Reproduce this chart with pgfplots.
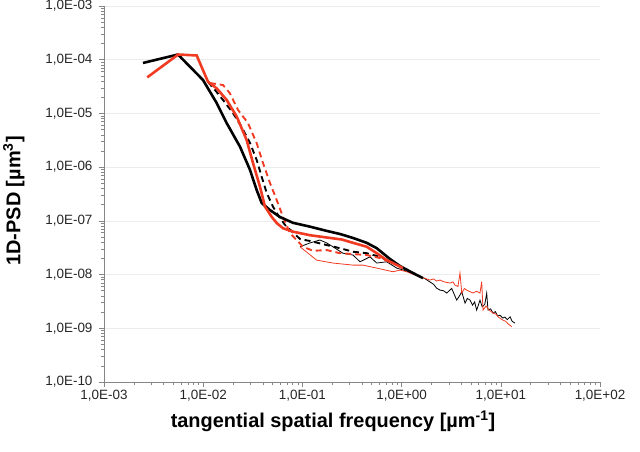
\documentclass[border=0pt]{standalone}
\usepackage{fontspec}
\setmainfont{Liberation Sans}
\usepackage{pgfplots}
\pgfplotsset{compat=1.18}
\definecolor{pr}{HTML}{F03A22}
\definecolor{axgray}{RGB}{134,134,134}
\definecolor{gridc}{RGB}{236,236,236}
\begin{document}
\begin{tikzpicture}
\begin{axis}[
  scale only axis, width=496bp, height=376bp,
  xmode=log, ymode=log,
  xmin=1e-3, xmax=1e2, ymin=1e-10, ymax=1e-3,
  axis x line*=bottom, axis y line*=left,
  axis line style={axgray, line width=0.8pt},
  tick style={axgray, line width=0.6pt},
  tick align=outside,
  major tick length=5bp, minor tick length=3bp,
  xtick={1e-3,1e-2,1e-1,1e0,1e1,1e2},
  xticklabels={{1,0E-03},{1,0E-02},{1,0E-01},{1,0E+00},{1,0E+01},{1,0E+02}},
  ytick={1e-10,1e-9,1e-8,1e-7,1e-6,1e-5,1e-4,1e-3},
  yticklabels={{1,0E-10},{1,0E-09},{1,0E-08},{1,0E-07},{1,0E-06},{1,0E-05},{1,0E-04},{1,0E-03}},
  ticklabel style={font=\fontsize{13.5}{15}\selectfont, text=black!85},
  yticklabel style={xshift=-3bp},
  ymajorgrids, major grid style={gridc, line width=0.6pt},
  xlabel={tangential spatial frequency [µm\textsuperscript{-1}]},
  ylabel={1D-PSD [µm\textsuperscript{3}]},
  label style={font=\bfseries\fontsize{20}{24}\selectfont},
  xlabel style={yshift=-2bp, xshift=-19bp},
  ylabel style={yshift=14bp, xshift=-7bp},
  clip=true,
]
% black thin
\addplot[black, line width=0.8pt] coordinates {
(0.0946,3.3e-8) (0.12,3.9e-8) (0.150,4.4e-8) (0.175,3.9e-8) (0.203,3.3e-8) (0.256,2.5e-8)
(0.324,2.31e-8) (0.381,1.73e-8) (0.48,2.14e-8) (0.561,1.64e-8) (0.708,1.73e-8) (0.893,1.32e-8)
(1.125,1.16e-8) (1.3,1.05e-8) (1.53,9.1e-9) (1.7,8.5e-9) (1.93,7.3e-9) (2.1,6.6e-9) (2.25,5.6e-9)
(2.44,5.14e-9) (2.65,5.0e-9) (2.85,4.53e-9) (3.2,5.53e-9) (3.59,3.35e-9) (3.8,3.9e-9) (4.04,4.79e-9)
(4.36,2.94e-9) (4.6,3.6e-9) (4.9,3.35e-9) (5.2,2.7e-9) (5.45,3.1e-9) (5.71,2.18e-9) (6.17,3.35e-9)
(6.5,2.5e-9) (6.9,2.8e-9) (7.21,4.53e-9) (7.43,2.18e-9) (7.9,2.3e-9) (8.34,1.92e-9) (8.8,2.05e-9)
(9.3,1.7e-9) (9.8,1.75e-9) (10.5,1.55e-9) (11.0,1.62e-9) (11.6,1.45e-9) (12.4,1.64e-9) (13.0,1.35e-9) (13.9,1.25e-9)
};
% red thin
\addplot[pr, line width=0.8pt] coordinates {
(0.0946,3.3e-8) (0.139,1.86e-8) (0.203,1.64e-8) (0.324,1.5e-8) (0.408,1.5e-8) (0.561,1.32e-8)
(0.818,1.13e-8) (0.964,1.21e-8) (1.125,1.13e-8) (1.3,1.02e-8) (1.53,9.1e-9) (1.7,8.6e-9) (1.93,7.9e-9)
(2.1,8.3e-9) (2.25,7.6e-9) (2.44,7.9e-9) (2.7,7.3e-9) (3.08,6.95e-9) (3.3,7.3e-9) (3.45,6.37e-9)
(3.7,6.0e-9) (3.88,1.07e-8) (4.04,4.53e-9) (4.3,5.5e-9) (4.53,5.14e-9) (4.9,4.8e-9) (5.25,4.53e-9)
(5.7,4.9e-9) (6.17,4.53e-9) (6.42,7.35e-9) (6.62,2.18e-9) (7.1,2.6e-9) (7.6,2.2e-9) (8.34,1.92e-9)
(8.9,1.85e-9) (9.5,1.6e-9) (10.5,1.42e-9) (11.2,1.35e-9) (11.9,1.2e-9) (12.9,1.07e-9)
};
% black dashed
\addplot[black, line width=1.9pt, dash pattern=on 6pt off 4pt] coordinates {
(0.01117,3.85e-5) (0.01316,2.73e-5) (0.01583,1.78e-5) (0.01995,1.02e-5) (0.0244,5.6e-6)
(0.0297,2.8e-6) (0.0346,1.36e-6) (0.0389,6.6e-7) (0.0437,3.3e-7) (0.0506,1.83e-7) (0.0568,1.28e-7)
(0.0668,8.4e-8) (0.0946,4.6e-8) (0.128,4.1e-8) (0.176,3.54e-8) (0.239,3.1e-8) (0.324,2.66e-8)
(0.445,2.5e-8) (0.605,2.14e-8) (0.818,1.64e-8) (1.0,1.35e-8)
};
% red dashed
\addplot[pr, line width=1.9pt, dash pattern=on 6pt off 4pt] coordinates {
(0.0117,3.68e-5) (0.01583,3.38e-5) (0.0186,2.37e-5) (0.02245,1.16e-5) (0.0283,6.6e-6)
(0.0346,2.8e-6) (0.0401,1.19e-6) (0.0471,5.1e-7) (0.0551,2.44e-7) (0.0637,1.19e-7) (0.075,5.9e-8)
(0.1014,3.3e-8) (0.128,2.77e-8) (0.176,2.86e-8) (0.239,2.5e-8) (0.324,2.41e-8) (0.445,2.31e-8)
(0.605,2.03e-8) (0.818,1.64e-8) (1.0,1.35e-8)
};
% black thick
\addplot[black, line width=2.6pt] coordinates {
(0.00247,8.7e-5) (0.00557,1.25e-4) (0.00736,7.4e-5) (0.00995,4.2e-5) (0.01368,1.56e-5)
(0.01726,6.6e-6) (0.0235,2.4e-6) (0.0297,8.8e-7) (0.0346,3.75e-7) (0.0389,2.15e-7) (0.0471,1.59e-7)
(0.0594,1.18e-7) (0.0803,9.2e-8) (0.1194,7.8e-8) (0.176,6.5e-8) (0.239,5.7e-8) (0.324,4.8e-8)
(0.445,3.9e-8) (0.561,3.1e-8) (0.764,1.95e-8) (0.964,1.44e-8) (1.30,1.07e-8) (1.64,8.6e-9)
};
% red thick
\addplot[pr, line width=2.6pt] coordinates {
(0.00273,4.7e-5) (0.0056,1.25e-4) (0.0086,1.20e-4) (0.01117,3.9e-5) (0.01368,2.93e-5)
(0.01726,1.78e-5) (0.0218,8.7e-6) (0.0274,3.2e-6) (0.0318,1.19e-6) (0.0374,4.3e-7) (0.0420,1.83e-7)
(0.049,1.19e-7) (0.0551,9.1e-8) (0.0637,7.3e-8) (0.0803,6.3e-8) (0.1194,5.4e-8) (0.176,4.9e-8)
(0.249,4.5e-8) (0.324,3.9e-8) (0.445,3.3e-8) (0.561,2.5e-8) (0.708,1.86e-8) (0.818,1.64e-8) (1.03,1.32e-8)
};
\end{axis}
\pgfresetboundingbox
\path[use as bounding box] ([xshift=-104bp,yshift=-70bp]current axis.south west) rectangle ([xshift=40bp,yshift=6bp]current axis.north east);
\end{tikzpicture}
\end{document}
